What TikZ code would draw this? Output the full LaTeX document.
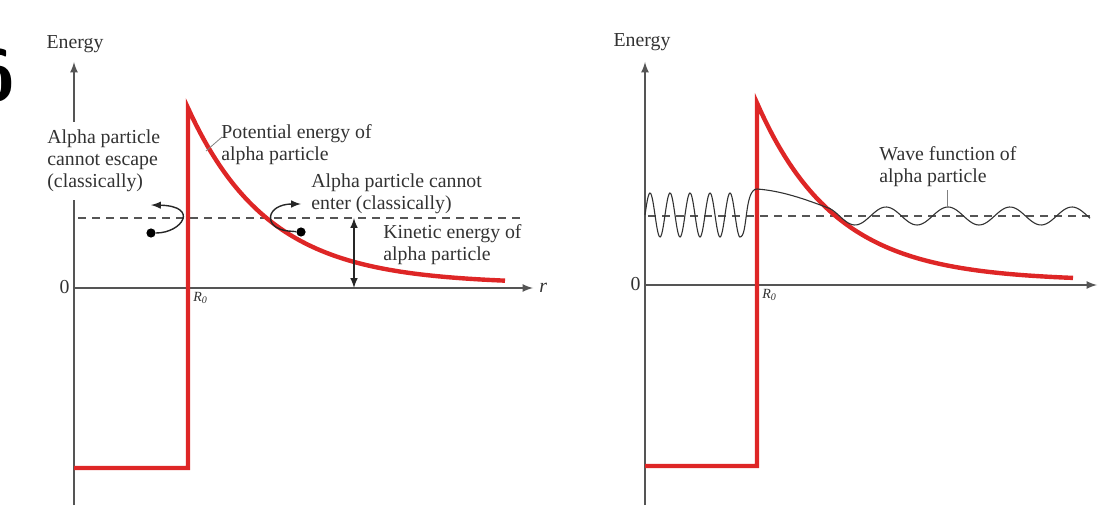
\documentclass[tikz,border=0pt]{standalone}
\usepackage{fontspec}
\setmainfont{Liberation Serif}
\definecolor{BarrierRed}{RGB}{222,38,38}
\definecolor{AxisGray}{RGB}{85,85,85}
\definecolor{InkGray}{RGB}{50,50,50}
\tikzset{
  axis/.style={draw=AxisGray, line width=0.8pt, -latex},
  barrier/.style={draw=BarrierRed, line width=2.2pt, line join=miter},
  level/.style={draw=AxisGray, line width=0.65pt, dash pattern=on 4pt off 3pt},
  wavefn/.style={draw=InkGray, line width=0.55pt},
  curarrow/.style={draw=black!85, line width=0.7pt, -latex},
  particle/.style={circle, fill=black, inner sep=0pt, minimum size=4.6pt},
  txt/.style={font=\fontsize{9.9}{11}\selectfont, text=InkGray, align=left, inner sep=0pt},
  leader/.style={draw=gray, line width=0.4pt}
}
\begin{document}
\begin{tikzpicture}[x=0.5pt, y=-0.5pt]
  \useasboundingbox (0,0) rectangle (1108,513);

  % cut-off figure number at the left edge
  \node[font=\sffamily\bfseries\fontsize{36}{36}\selectfont, text=black] (fignum) at (-5,76) {6};

  % ---- left panel ----
  \coordinate (lbot) at (74,505);
  \coordinate (ltop) at (74,62);
  \coordinate (lorig) at (74,288);
  \coordinate (lend) at (533,288);
  \draw[axis] (lbot) -- (ltop);
  \draw[axis] (lorig) -- (lend);
  \node[txt, anchor=south] (lenergy) at (75,53) {Energy};
  \node[txt, anchor=east] (lzero) at (70,287) {0};
  \node[txt, anchor=west, font=\fontsize{9.9}{11}\itshape] (lr) at (539,288) {r};
  \node[txt, anchor=north west, font=\fontsize{7}{8}\itshape] (lR) at (193,292) {R\textsubscript{0}};

  \draw[level] (78,218) -- (525,218);
  \draw[barrier] (74,468) -- (188,468) -- (188,108)
    -- plot[domain=188:505, samples=80] (\x, {288-(176*exp(-(\x-188)/80)+4)});

  \node[txt, anchor=west, fill=white, inner ysep=4pt] (escape) at (47,161) {Alpha particle\\cannot escape\\(classically)};
  \node[txt, anchor=west] (potential) at (221,145) {Potential energy of\\alpha particle};
  \node[txt, anchor=west] (enter) at (311,194) {Alpha particle cannot\\enter (classically)};
  \node[txt, anchor=west] (kinetic) at (383,245) {Kinetic energy of\\alpha particle};

  \coordinate (potfoot) at (206,151);
  \draw[leader] (potential.west) ++(1,-8) coordinate (pottop) -- (potfoot);

  \node[particle] (inside) at (151,233) {};
  \coordinate (insidetip) at (151,205);
  \draw[curarrow] (inside) .. controls (182,233) and (200,206) .. (insidetip);

  \node[particle] (outside) at (301,232) {};
  \coordinate (outsidebend) at (288,231);
  \coordinate (outsidetip) at (301,204);
  \draw[curarrow] (outside) -- (outsidebend) .. controls (262,228) and (266,204) .. (outsidetip);

  \coordinate (ketop) at (354,218);
  \coordinate (kebot) at (354,288);
  \draw[draw=black!85, line width=0.7pt, latex-latex] (ketop) -- (kebot);

  % ---- right panel ----
  \coordinate (rbot) at (645,505);
  \coordinate (rtop) at (645,62);
  \coordinate (rorig) at (645,285);
  \coordinate (rend) at (1097,285);
  \draw[axis] (rbot) -- (rtop);
  \draw[axis] (rorig) -- (rend);
  \node[txt, anchor=south] (renergy) at (642,51) {Energy};
  \node[txt, anchor=east] (rzero) at (641,284) {0};
  \node[txt, anchor=north west, font=\fontsize{7}{8}\itshape] (rR) at (762,289) {R\textsubscript{0}};

  \draw[level] (648,216) -- (1090,216);
  \draw[barrier] (645,466) -- (757,466) -- (757,103)
    -- plot[domain=757:1073, samples=80] (\x, {285-(178*exp(-(\x-757)/78)+4)});

  \draw[wavefn] plot[domain=645:740, samples=120] (\x, {215-22*sin(18*(\x-645))})
    .. controls (748,237) and (744,189) .. (757,189)
    .. controls (785,191) and (812,202) .. (830,208.6)
    -- plot[domain=830:1090, samples=120] (\x, {216+9*cos(5.806*(\x-855))});

  \node[txt, anchor=west] (wave) at (879,167) {Wave function of\\alpha particle};
  \coordinate (wavepeak) at (947,207);
  \coordinate (wavefoot) at (947,190);
  \draw[leader] (wavepeak) -- (wavefoot);
\end{tikzpicture}
\end{document}
